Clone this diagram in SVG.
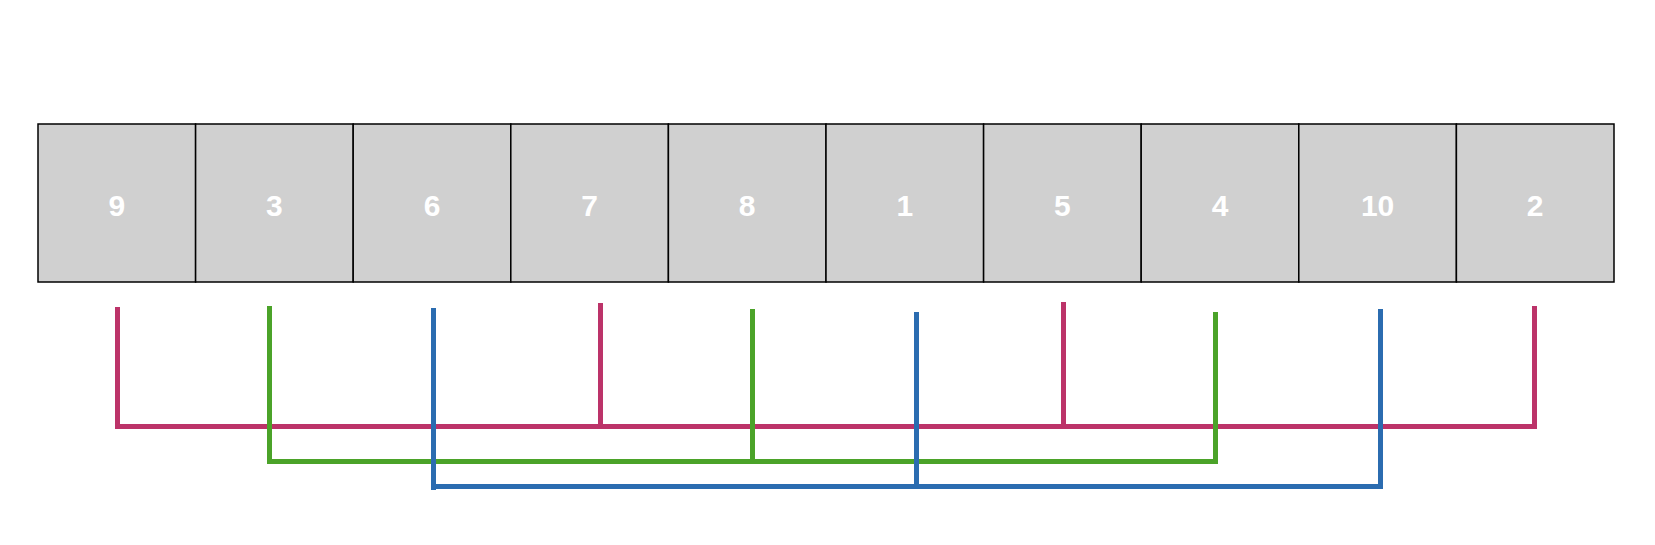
<svg xmlns="http://www.w3.org/2000/svg" width="1655" height="545" viewBox="0 0 1655 545">
<style>
.cell rect{fill:#d0d0d0;stroke:#000;stroke-width:1.5}
.cell text{fill:#fff;font-family:"Liberation Sans",Arial,sans-serif;font-weight:bold;font-size:30px;text-anchor:middle}
.c{fill:none;stroke-width:5;stroke-linejoin:miter;stroke-linecap:butt}
.m{stroke:#bc3369}
.g{stroke:#4ba329}
.b{stroke:#2b6cb0}
</style>
<rect width="1655" height="545" fill="#fff"/>
<g id="n9" class="cell"><rect x="38" y="124" width="157.6" height="158"/><text x="116.8" y="215.5">9</text></g>
<g id="n3" class="cell"><rect x="195.6" y="124" width="157.6" height="158"/><text x="274.4" y="215.5">3</text></g>
<g id="n6" class="cell"><rect x="353.2" y="124" width="157.6" height="158"/><text x="432" y="215.5">6</text></g>
<g id="n7" class="cell"><rect x="510.8" y="124" width="157.6" height="158"/><text x="589.6" y="215.5">7</text></g>
<g id="n8" class="cell"><rect x="668.4" y="124" width="157.6" height="158"/><text x="747.2" y="215.5">8</text></g>
<g id="n1" class="cell"><rect x="826" y="124" width="157.6" height="158"/><text x="904.8" y="215.5">1</text></g>
<g id="n5" class="cell"><rect x="983.6" y="124" width="157.6" height="158"/><text x="1062.4" y="215.5">5</text></g>
<g id="n4" class="cell"><rect x="1141.2" y="124" width="157.6" height="158"/><text x="1220" y="215.5">4</text></g>
<g id="n10" class="cell"><rect x="1298.8" y="124" width="157.6" height="158"/><text x="1377.6" y="215.5">10</text></g>
<g id="n2" class="cell"><rect x="1456.4" y="124" width="157.6" height="158"/><text x="1535.2" y="215.5">2</text></g>
<g id="connectors">
<polyline class="c m" points="117.5,307 117.5,426.5 1534.5,426.5 1534.5,306"/>
<line class="c m" x1="600.5" y1="303" x2="600.5" y2="426.5"/>
<line class="c m" x1="1063.5" y1="302" x2="1063.5" y2="426.5"/>
<polyline class="c g" points="269.5,306 269.5,461.5 1215.5,461.5 1215.5,312"/>
<line class="c g" x1="752.5" y1="309" x2="752.5" y2="461.5"/>
<polyline class="c b" points="433.5,308 433.5,486.5 1380.5,486.5 1380.5,309"/>
<line class="c b" x1="433.5" y1="486" x2="433.5" y2="490"/>
<line class="c b" x1="916.5" y1="312" x2="916.5" y2="486.5"/>
</g>
</svg>
